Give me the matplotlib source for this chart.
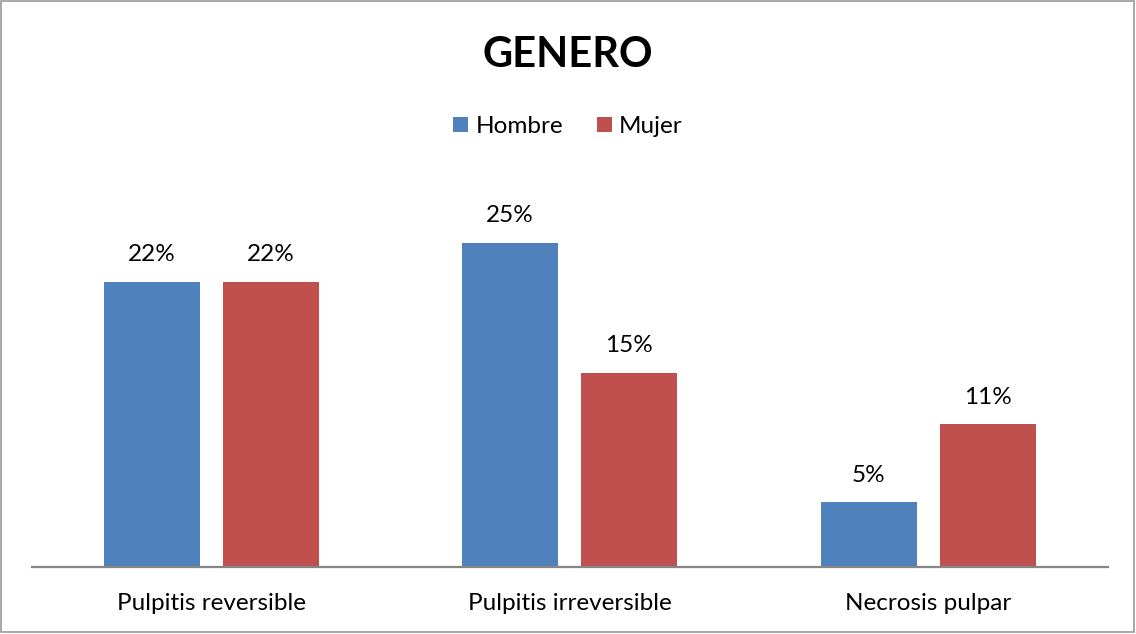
import numpy as np
import matplotlib.pyplot as plt
from matplotlib.patches import Rectangle

# Chart data
categories = ["Pulpitis reversible", "Pulpitis irreversible", "Necrosis pulpar"]
hombre = [22, 25, 5]
mujer = [22, 15, 11]
series_names = ["Hombre", "Mujer"]

BLUE = "#4F81BD"
RED = "#C0504D"

plt.rcParams['font.family'] = ['Lato', 'DejaVu Sans']

fig = plt.figure(figsize=(11.36, 6.34), dpi=100)
ax = fig.add_axes([0.028, 0.1057, 0.947, 0.613])

x = np.arange(len(categories))
w = 0.268
off = 0.166
b1 = ax.bar(x - off, hombre, w, color=BLUE, label=series_names[0])
b2 = ax.bar(x + off, mujer, w, color=RED, label=series_names[1])

for bars, vals in ((b1, hombre), (b2, mujer)):
    for rect, v in zip(bars, vals):
        ax.annotate(f"{v}%", (rect.get_x() + rect.get_width() / 2, v),
                    xytext=(0, 12), textcoords="offset points",
                    ha="center", va="bottom", fontsize=17.5)

ax.set_xlim(-0.5, 2.5)
ax.set_ylim(0, 30)
ax.set_yticks([])
ax.set_xticks(x)
ax.set_xticklabels(categories, fontsize=17.5)
ax.tick_params(axis="x", length=0, pad=19)
for s in ("top", "right", "left"):
    ax.spines[s].set_visible(False)
ax.spines["bottom"].set_color("#868686")
ax.spines["bottom"].set_linewidth(1.6)

fig.text(0.5, 0.914, "GENERO", ha="center", va="center",
         fontsize=30, fontweight="bold")

fig.legend(loc="center", bbox_to_anchor=(0.5, 0.80), ncol=2, frameon=False,
           fontsize=17.5, handlelength=0.6, handleheight=0.6,
           handletextpad=0.3, columnspacing=1.4)

# outer border
fig.patches.append(Rectangle((0.001, 0.003), 0.997, 0.995, transform=fig.transFigure,
                             fill=False, edgecolor="#9a9a9a", linewidth=1.2))

fig.savefig("out.png", dpi=100)
